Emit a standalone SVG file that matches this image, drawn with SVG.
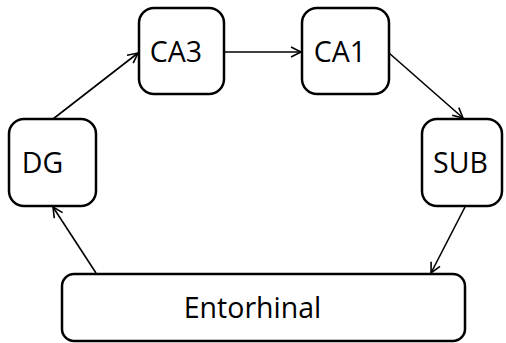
<svg xmlns="http://www.w3.org/2000/svg" width="506" height="343" viewBox="0 0 506 343">
<style>
.box{fill:#fff;stroke:#000;stroke-width:2.5}
.lbl{font-family:"Open Sans","Noto Sans",sans-serif;font-size:28.5px;fill:#000;text-anchor:middle}
.con{stroke:#000;stroke-width:1.6;fill:none;marker-end:url(#ah)}
</style>
<defs>
<marker id="ah" markerWidth="14" markerHeight="14" refX="11" refY="6" orient="auto" markerUnits="userSpaceOnUse" viewBox="0 0 14 12">
<path d="M1,1 L11,6 L1,11" fill="none" stroke="#000" stroke-width="1.6"/>
</marker>
</defs>
<rect width="506" height="343" fill="#fff"/>
<g id="connectors">
<line class="con" x1="53" y1="119" x2="138" y2="53"/>
<line class="con" x1="225" y1="52" x2="301" y2="52"/>
<line class="con" x1="389" y1="53" x2="463" y2="118"/>
<line class="con" x1="465" y1="207" x2="431" y2="273"/>
<line class="con" x1="96" y1="273" x2="53" y2="207"/>
</g>
<g id="DG"><rect class="box" x="9" y="119" width="87" height="87" rx="15"/><text class="lbl" x="42.5" y="173">DG</text></g>
<g id="CA3"><rect class="box" x="139" y="8" width="85" height="86" rx="15"/><text class="lbl" x="176" y="62">CA3</text></g>
<g id="CA1"><rect class="box" x="302" y="8" width="87" height="86" rx="15"/><text class="lbl" x="340" y="62">CA1</text></g>
<g id="SUB"><rect class="box" x="422" y="119" width="80" height="87" rx="15"/><text class="lbl" x="460.5" y="173">SUB</text></g>
<g id="Entorhinal"><rect class="box" x="62" y="274" width="403" height="67" rx="12"/><text class="lbl" x="252.5" y="318">Entorhinal</text></g>
</svg>
